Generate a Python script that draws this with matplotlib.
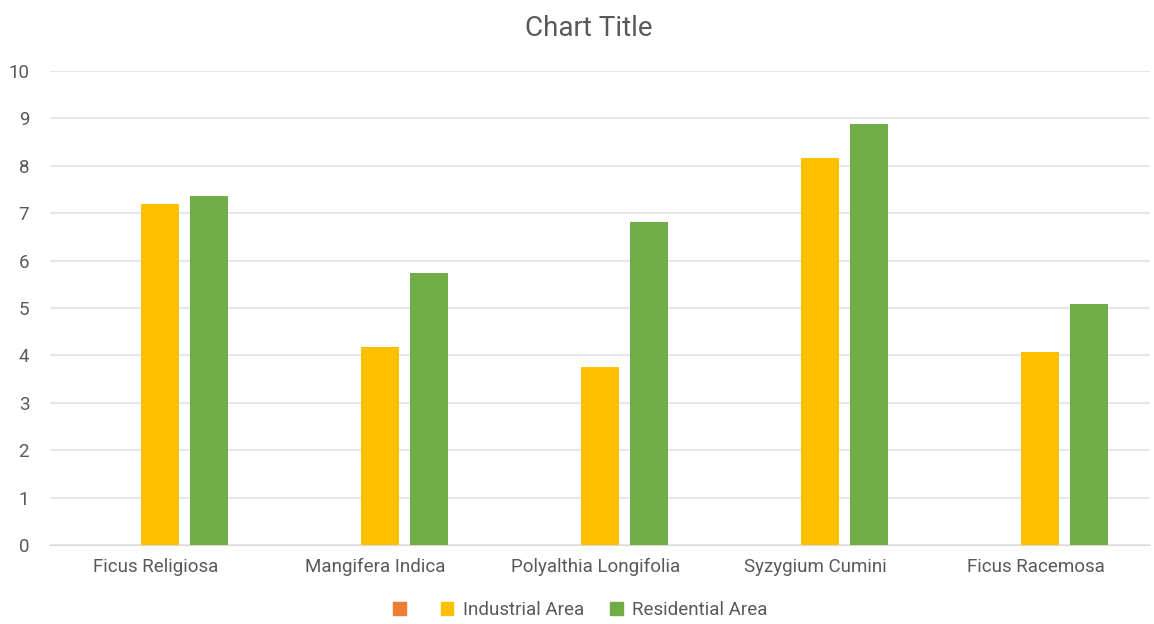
import numpy as np
import matplotlib.pyplot as plt
from matplotlib.patches import Patch

plt.rcParams["font.family"] = ["Roboto", "DejaVu Sans"]

# Data
species = ["Ficus Religiosa", "Mangifera Indica", "Polyalthia Longifolia",
           "Syzygium Cumini", "Ficus Racemosa"]
series1 = [0, 0, 0, 0, 0]  # unnamed series, no visible bars
industrial = [7.19, 4.18, 3.76, 8.16, 4.07]
residential = [7.36, 5.74, 6.81, 8.88, 5.08]
yticks = list(range(0, 11))

colors = ["#ED7D31", "#FFC000", "#70AD47"]
text_col = "#595959"

fig = plt.figure(figsize=(11.54, 6.24), dpi=100)
ax = fig.add_axes([0.0433, 0.1266, 0.9532, 0.7596])

x = np.arange(len(species))
step = 0.222
width = 0.172
ax.bar(x - step, series1, width, color=colors[0], zorder=3)
ax.bar(x, industrial, width, color=colors[1], zorder=3)
ax.bar(x + step, residential, width, color=colors[2], zorder=3)

ax.set_xlim(-0.5, len(species) - 0.5)
ax.set_ylim(0, 10)
ax.set_yticks(yticks)
ax.set_xticks(x - 0.02)
ax.set_xticklabels(species)
ax.yaxis.grid(True, color="#E3E3E3", linewidth=1.2, zorder=0)
ax.tick_params(axis="both", length=0, colors=text_col, labelsize=13.5)
ax.tick_params(axis="y", pad=15)
ax.tick_params(axis="x", pad=9)
for s in ax.spines.values():
    s.set_visible(False)
ax.spines["bottom"].set_visible(True)
ax.spines["bottom"].set_color("#D9D9D9")

fig.text(0.51, 0.955, "Chart Title", ha="center", va="center",
         fontsize=20, color=text_col)

handles = [Patch(color=c) for c in colors]
fig.legend(handles, ["", "Industrial Area", "Residential Area"],
           loc="center", bbox_to_anchor=(0.503, 0.022), ncol=3, frameon=False,
           fontsize=13.5, labelcolor=text_col, handlelength=0.65,
           handleheight=0.65, handletextpad=0.5, columnspacing=1.4)

fig.savefig("out.png")
